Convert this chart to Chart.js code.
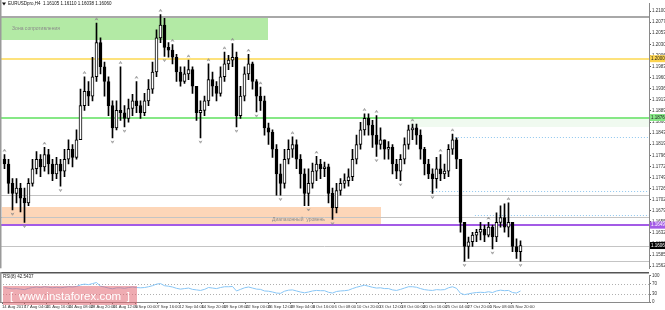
<!DOCTYPE html>
<html lang="ru">
<head>
<meta charset="UTF-8">
<meta name="viewport" content="width=device-width, initial-scale=1.0">
<title>EURUSDpro,H4</title>
<script src="https://cdn.jsdelivr.net/npm/chart.js@4.4.1/dist/chart.umd.min.js"></script>
<style>
    html, body { margin: 0; padding: 0; background: #fff; }
    #wrap { position: relative; width: 665px; height: 310px; overflow: hidden; }
    #priceChart { position: absolute; left: 0; top: 0; }
    #rsiChart { position: absolute; left: 0; top: 272px; }
    .brand {
        position: absolute; left: 3px; top: 286px; width: 134px; height: 19px;
        background: rgba(224, 96, 108, 0.52); color: #fff;
        font: 11.5px "Liberation Sans", Arial, sans-serif;
        display: flex; align-items: center; justify-content: space-between;
        padding: 0 7px; box-sizing: border-box;
    }
</style>
</head>
<body>
<div id="wrap">
    <canvas id="priceChart" width="665" height="272"></canvas>
    <canvas id="rsiChart" width="665" height="38"></canvas>
    <div class="brand"><span>[</span><span>www.instaforex.com</span><span>]</span></div>
</div>

<script>
    // EURUSD H4 candles, left to right
    const firstOpen = 1.1788;
    const closes = [
        1.1778,1.1737,1.1716,1.1727,1.1706,1.1696,1.1737,1.1768,1.1788,1.1772,
        1.1798,1.1778,1.1757,1.1778,1.1763,1.1788,1.1809,1.1792,1.1829,1.1901,
        1.1931,1.1921,1.1962,1.2034,1.1983,1.1952,1.1901,1.1854,1.1891,1.1886,
        1.1874,1.1895,1.1911,1.1901,1.1886,1.1911,1.1936,1.1972,1.2044,1.2071,
        1.2024,1.2018,1.2003,1.1972,1.1952,1.1968,1.1977,1.1942,1.1886,1.1891,
        1.1911,1.1956,1.1942,1.1927,1.1962,1.1989,1.1997,1.2003,1.1880,1.1921,
        1.1968,1.1989,1.1952,1.1921,1.1911,1.1854,1.1845,1.1809,1.1757,1.1737,
        1.1788,1.1809,1.1819,1.1788,1.1757,1.1716,1.1737,1.1763,1.1778,1.1768,
        1.1772,1.1716,1.1686,1.1722,1.1737,1.1743,1.1751,1.1788,1.1819,1.1850,
        1.1874,1.1860,1.1839,1.1819,1.1829,1.1809,1.1813,1.1778,1.1763,1.1788,
        1.1819,1.1850,1.1854,1.1839,1.1809,1.1778,1.1757,1.1747,1.1768,1.1757,
        1.1763,1.1809,1.1829,1.1788,1.1655,1.1604,1.1614,1.1628,1.1634,1.1640,
        1.1628,1.1645,1.1624,1.1655,1.1665,1.1645,1.1655,1.1604,1.1593,1.1606
    ];
    const highs = [
        1.1798,1.1788,1.1747,1.1747,1.1737,1.1727,1.1747,1.1788,1.1804,1.1798,
        1.1813,1.1809,1.1788,1.1792,1.1788,1.1809,1.1829,1.1819,1.1850,1.1936,
        1.1962,1.1952,1.2003,1.2075,1.2044,1.1993,1.1962,1.1911,1.1911,1.1983,
        1.1901,1.1915,1.1925,1.1952,1.1911,1.1927,1.1956,1.1993,1.2061,1.2093,
        1.2085,1.2034,1.2030,1.2009,1.1983,1.1983,1.1997,1.1983,1.1942,1.1911,
        1.1921,1.1989,1.1972,1.1952,1.1983,1.2014,1.2007,1.2032,1.2014,1.1942,
        1.1983,1.2009,1.1993,1.1956,1.1940,1.1921,1.1864,1.1850,1.1819,1.1778,
        1.1809,1.1829,1.1835,1.1829,1.1798,1.1768,1.1768,1.1780,1.1794,1.1788,
        1.1782,1.1778,1.1727,1.1737,1.1747,1.1757,1.1768,1.1809,1.1839,1.1866,
        1.1884,1.1884,1.1870,1.1880,1.1854,1.1829,1.1825,1.1819,1.1788,1.1798,
        1.1833,1.1860,1.1862,1.1862,1.1850,1.1813,1.1788,1.1768,1.1792,1.1798,
        1.1778,1.1819,1.1841,1.1833,1.1788,1.1655,1.1624,1.1634,1.1640,1.1655,
        1.1649,1.1655,1.1649,1.1675,1.1690,1.1694,1.1696,1.1655,1.1620,1.1616
    ];
    const lows = [
        1.1768,1.1716,1.1681,1.1696,1.1677,1.1655,1.1690,1.1731,1.1757,1.1751,
        1.1763,1.1757,1.1743,1.1747,1.1731,1.1751,1.1778,1.1772,1.1788,1.1829,
        1.1891,1.1901,1.1911,1.1952,1.1968,1.1921,1.1880,1.1833,1.1850,1.1870,
        1.1856,1.1866,1.1880,1.1886,1.1874,1.1880,1.1901,1.1927,1.1962,1.2034,
        1.2005,1.2003,1.1989,1.1952,1.1942,1.1948,1.1956,1.1927,1.1870,1.1833,
        1.1880,1.1901,1.1921,1.1911,1.1921,1.1952,1.1977,1.1983,1.1856,1.1874,
        1.1911,1.1956,1.1936,1.1888,1.1891,1.1839,1.1819,1.1792,1.1712,1.1712,
        1.1727,1.1778,1.1792,1.1768,1.1727,1.1690,1.1690,1.1727,1.1743,1.1747,
        1.1751,1.1696,1.1661,1.1675,1.1712,1.1727,1.1731,1.1743,1.1778,1.1809,
        1.1839,1.1839,1.1813,1.1794,1.1809,1.1788,1.1788,1.1757,1.1747,1.1743,
        1.1778,1.1809,1.1829,1.1819,1.1788,1.1755,1.1747,1.1716,1.1727,1.1743,
        1.1747,1.1751,1.1798,1.1768,1.1634,1.1573,1.1579,1.1604,1.1614,1.1618,
        1.1614,1.1624,1.1599,1.1614,1.1645,1.1634,1.1624,1.1593,1.1579,1.1573
    ];
    const rsiValues = [
        55,52,50,51,49,47,52,55,57,55,58,56,54,56,54,56,58,57,59,
        65,68,66,70,74,
        60,57,53,50,54,54,52,55,57,55,54,
        55,58,62,68,70,
        62,60,57,52,49,51,53,48,46,44,48,55,53,51,55,58,58,59,
        42,48,54,57,53,49,48,
        42,41,38,34,33,41,45,46,
        42,38,35,38,42,44,43,43,37,34,
        40,42,43,45,51,56,60,64,
        60,56,53,54,51,51,46,44,48,53,58,
        58,56,51,47,45,44,47,46,47,
        54,58,52,
        33,28,31,34,36,
        37,36,39,36,42,45,
        43,44,36,34,42
    ];
    // fractal arrows (candle indexes)
    const upFractals = [0, 10, 20, 23, 29, 33, 39, 42, 46, 51, 55, 57, 61, 64, 72, 78, 90, 93, 102, 109, 112, 121, 126];
    const downFractals = [2, 5, 14, 27, 30, 40, 49, 58, 63, 69, 76, 82, 93, 99, 107, 115, 122, 129];

    const priceTicks = [
        1.21005,1.20771,1.20537,1.20303,1.20069,1.19835,1.19601,1.19367,1.19133,1.18899,1.18665,1.18431,
        1.18197,1.17963,1.17729,1.17495,1.17261,1.17027,1.16793,1.16559,1.16325,1.16091,1.15857,1.15623
    ];
    const rsiTicks = [0, 30, 70, 100];
    const dateLabels = [
        '14 Aug 2017','17 Aug 04:00','21 Aug 16:00','24 Aug 08:00','28 Aug 20:00','31 Aug 12:00',
        '5 Sep 00:00','7 Sep 16:00','12 Sep 04:00','14 Sep 20:00','19 Sep 08:00','22 Sep 00:00',
        '26 Sep 12:00','29 Sep 04:00','3 Oct 16:00','6 Oct 08:00','10 Oct 20:00','13 Oct 12:00',
        '18 Oct 00:00','20 Oct 16:00','25 Oct 04:00','27 Oct 20:00','1 Nov 08:00','5 Nov 20:00'
    ];
    const headerText = 'EURUSDpro,H4  1.16105 1.16110 1.16038 1.16060';
    const rsiTitle = 'RSI(8) 42.5437';

    // levels and zones drawn on the chart (prices)
    const resistZone = [1.2085, 1.2040];
    const rangeZone = [1.1687, 1.1651];
    const supplyZone = [1.1876, 1.1855];
    const greyLevels = [1.2087, 1.1712, 1.1667, 1.1606];
    const dottedLevels = [1.1835, 1.1722, 1.1671];
    const dottedFrom = [113.6, 107.4, 118.6];
    const lowLevel = 1.1573;
    const yellowLevel = 1.2000;
    const greenLevel = 1.1876;
    const purpleLevel = 1.1649;
    const lastPrice = 1.1606;

    const FONT = '"Liberation Sans", Arial, sans-serif';

    // build candle pieces
    const opens = closes.map((c, i) => i === 0 ? firstOpen : closes[i - 1]);
    const wicks = closes.map((c, i) => ({ x: i + 1, y: [lows[i], highs[i]] }));
    const bodies = closes.map((c, i) => ({ x: i + 1, y: [opens[i], c] }));
    const bodyFill = closes.map((c, i) => c >= opens[i] ? '#ffffff' : '#000000');

    function hline(ctx, yy, x0, x1, color, width, dash) {
        const y = Math.round(yy) + (width % 2 ? 0.5 : 0);
        ctx.strokeStyle = color;
        ctx.lineWidth = width;
        ctx.setLineDash(dash || []);
        ctx.beginPath();
        ctx.moveTo(x0, y);
        ctx.lineTo(x1, y);
        ctx.stroke();
    }

    // zones and horizontal lines under the candles
    const levelsPlugin = {
        id: 'levels',
        beforeDatasetsDraw(chart) {
            const { ctx, chartArea: a, scales: { x, y } } = chart;
            const box = (x0, x1, band, color) => {
                const X0 = Math.round(x.getPixelForValue(x0)), X1 = Math.round(x.getPixelForValue(x1));
                const Y0 = Math.round(y.getPixelForValue(band[0])), Y1 = Math.round(y.getPixelForValue(band[1]));
                ctx.fillStyle = color;
                ctx.fillRect(X0, Y0, X1 - X0, Y1 - Y0);
            };
            ctx.save();
            box(-0.125, 66.9, resistZone, '#b3eaa5');
            box(0.4, 95.1, rangeZone, '#fdd6b8');
            box(102.4, 162.125, supplyZone, '#f0faf0');

            hline(ctx, y.getPixelForValue(greyLevels[0]), a.left, a.right, '#a8a8a8', 2);
            greyLevels.slice(1).forEach(p => hline(ctx, y.getPixelForValue(p), a.left, a.right, '#c4c4c4', 1));
            hline(ctx, y.getPixelForValue(lowLevel), x.getPixelForValue(115.6), a.right, '#c4c4c4', 1);
            dottedLevels.forEach((p, k) =>
                hline(ctx, y.getPixelForValue(p), x.getPixelForValue(dottedFrom[k]), a.right, '#8ec6ee', 1, [1, 2]));

            hline(ctx, y.getPixelForValue(yellowLevel), a.left, a.right, '#fde27c', 2);
            hline(ctx, y.getPixelForValue(greenLevel), a.left, a.right, '#86e886', 2);
            hline(ctx, y.getPixelForValue(purpleLevel), a.left, a.right, '#a35be6', 2);
            ctx.restore();
        },
        afterDatasetsDraw(chart) {
            const { ctx, chartArea: a, scales: { x, y } } = chart;
            ctx.save();
            // fractal arrows
            ctx.strokeStyle = '#8a8a8a';
            ctx.lineWidth = 0.7;
            ctx.setLineDash([]);
            upFractals.forEach(i => {
                const cx = x.getPixelForValue(i + 1), cy = y.getPixelForValue(highs[i]) - 4;
                ctx.beginPath();
                ctx.moveTo(cx - 1.4, cy + 1.2); ctx.lineTo(cx, cy - 1.3); ctx.lineTo(cx + 1.4, cy + 1.2);
                ctx.moveTo(cx - 0.8, cy + 0.2); ctx.lineTo(cx + 0.8, cy + 0.2);
                ctx.stroke();
            });
            downFractals.forEach(i => {
                const cx = x.getPixelForValue(i + 1), cy = y.getPixelForValue(lows[i]) + 4;
                ctx.beginPath();
                ctx.moveTo(cx - 1.4, cy - 1.2); ctx.lineTo(cx, cy + 1.3); ctx.lineTo(cx + 1.4, cy - 1.2);
                ctx.moveTo(cx - 0.8, cy - 0.2); ctx.lineTo(cx + 0.8, cy - 0.2);
                ctx.stroke();
            });

            // zone captions
            ctx.fillStyle = '#8c8c8c';
            ctx.font = '5px ' + FONT;
            ctx.textBaseline = 'middle';
            ctx.fillText('Зона сопротивления', x.getPixelForValue(2.9), y.getPixelForValue((resistZone[0] + resistZone[1]) / 2));
            ctx.fillText('Диапазонный  уровень', x.getPixelForValue(67.9), y.getPixelForValue(1.1661));

            // header
            ctx.fillStyle = '#111';
            ctx.font = '4.5px ' + FONT;
            ctx.fillText(headerText, 8, 4);
            ctx.beginPath();
            ctx.moveTo(2, 2.5); ctx.lineTo(6, 2.5); ctx.lineTo(4, 5.5); ctx.closePath();
            ctx.fill();

            // left frame
            ctx.fillStyle = '#9a9a9a';
            ctx.fillRect(0, 0, 1.5, a.bottom);
            ctx.restore();
        },
        afterDraw(chart) {
            const { ctx, chartArea: a, scales: { y } } = chart;
            const tags = [[yellowLevel, '#fcd34d', '#222'], [greenLevel, '#86e886', '#222'],
                          [purpleLevel, '#a35be6', '#fff'], [lastPrice, '#000', '#fff']];
            ctx.save();
            ctx.font = '4.5px ' + FONT;
            ctx.textBaseline = 'middle';
            tags.forEach(([p, bg, fg]) => {
                const yy = y.getPixelForValue(p);
                ctx.fillStyle = bg;
                ctx.fillRect(a.right + 1, yy - 3.5, 15, 7);
                ctx.fillStyle = fg;
                ctx.fillText(p.toFixed(5), a.right + 2, yy);
            });
            ctx.restore();
        }
    };

    new Chart(document.getElementById('priceChart'), {
        type: 'bar',
        data: {
            datasets: [
                { data: bodies, backgroundColor: bodyFill, borderColor: '#000', borderWidth: 1,
                  borderSkipped: false, barThickness: 3, minBarLength: 1, grouped: false, order: 1 },
                { data: wicks, backgroundColor: '#000', barThickness: 1, grouped: false, order: 2 }
            ]
        },
        options: {
            responsive: false,
            animation: false,
            events: [],
            layout: { padding: 0 },
            plugins: { legend: { display: false }, tooltip: { enabled: false } },
            scales: {
                x: { type: 'linear', min: -0.125, max: 162.125, offset: false, display: false },
                y: {
                    position: 'right', min: 1.1558, max: 1.2116, beginAtZero: false,
                    afterBuildTicks: s => { s.ticks = priceTicks.map(v => ({ value: v })); },
                    afterFit: s => { s.width = 16; },
                    ticks: { autoSkip: false, padding: 1, color: '#333', font: { size: 4.5, family: FONT },
                             callback: v => v.toFixed(5) },
                    grid: { drawOnChartArea: false, tickLength: 2, color: '#555' },
                    border: { color: '#8a8a8a' }
                }
            }
        },
        plugins: [levelsPlugin]
    });

    // RSI panel
    const rsiPlugin = {
        id: 'rsiPanel',
        beforeDatasetsDraw(chart) {
            const { ctx, chartArea: a, scales: { y } } = chart;
            ctx.save();
            [70, 30].forEach(v => hline(ctx, y.getPixelForValue(v), a.left, a.right, '#b0b0b0', 1, [1, 2]));
            ctx.restore();
        },
        afterDraw(chart) {
            const { ctx, chartArea: a } = chart;
            ctx.save();
            ctx.fillStyle = '#555';
            ctx.fillRect(0, 0, a.right, 1.5);
            ctx.fillStyle = '#9a9a9a';
            ctx.fillRect(0, 0, 1.5, a.bottom);
            ctx.fillStyle = '#222';
            ctx.font = '4.5px ' + FONT;
            ctx.textBaseline = 'middle';
            ctx.fillText(rsiTitle, 3, 5);
            ctx.restore();
        }
    };

    new Chart(document.getElementById('rsiChart'), {
        type: 'line',
        data: {
            datasets: [{
                data: rsiValues.map((v, i) => ({ x: i + 1, y: v })),
                borderColor: '#88c6f6', borderWidth: 1, pointRadius: 0, tension: 0
            }]
        },
        options: {
            responsive: false,
            animation: false,
            events: [],
            layout: { padding: { top: 3 } },
            plugins: { legend: { display: false }, tooltip: { enabled: false } },
            scales: {
                x: {
                    type: 'linear', min: -0.125, max: 162.125,
                    afterBuildTicks: s => { s.ticks = dateLabels.map((d, k) => ({ value: (2 + 22.17 * k) / 4 - 0.125 })); },
                    afterFit: s => { s.height = 8; },
                    ticks: { autoSkip: false, maxRotation: 0, align: 'start', padding: 0, color: '#333',
                             font: { size: 4.2, family: FONT }, callback: (v, k) => dateLabels[k] },
                    grid: { drawOnChartArea: false, tickLength: 2, color: '#666' },
                    border: { color: '#8a8a8a' }
                },
                y: {
                    position: 'right', min: 0, max: 100,
                    afterBuildTicks: s => { s.ticks = rsiTicks.map(v => ({ value: v })); },
                    afterFit: s => { s.width = 16; },
                    ticks: { autoSkip: false, padding: 1, color: '#333', font: { size: 4.5, family: FONT } },
                    grid: { drawOnChartArea: false, tickLength: 2, color: '#666' },
                    border: { color: '#8a8a8a' }
                }
            }
        },
        plugins: [rsiPlugin]
    });
</script>
</body>
</html>
